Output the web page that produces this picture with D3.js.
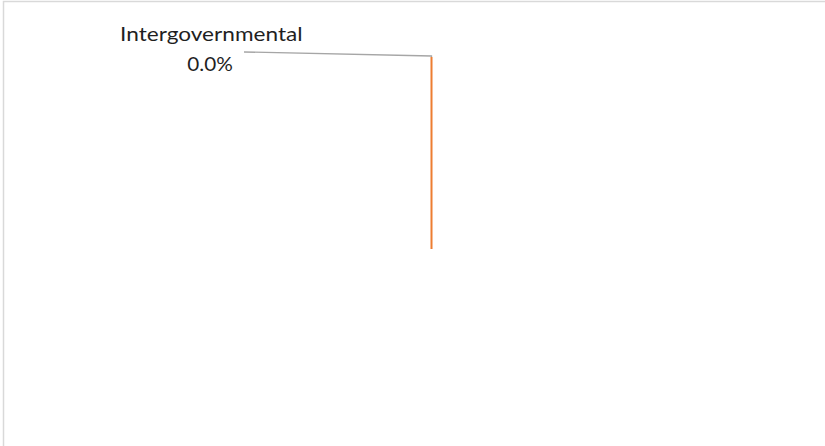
<!DOCTYPE html>
<html>
<head>
<meta charset="utf-8">
<script src="https://cdn.jsdelivr.net/npm/d3@7"></script>
<style>
  html, body { margin: 0; padding: 0; background: #fff; }
  svg { display: block; }
</style>
</head>
<body>
<svg id="chart" width="825" height="446"></svg>
<script>
// Revenue share by source
const categories = ["Intergovernmental"];
const values = [0];
const sliceColors = ["#ED7D31"];
const percentLabels = ["0.0%"];

const width = 825, height = 446;
const cx = 431.5, cy = 249, radius = 192;

const svg = d3.select("#chart");

// chart frame
svg.append("rect")
  .attr("x", 3.5).attr("y", 1.5)
  .attr("width", width + 10).attr("height", height + 10)
  .attr("fill", "#fff")
  .attr("stroke", "#d9d9d9")
  .attr("stroke-width", 1.5);

const pie = d3.pie().sort(null).value(d => d.value);
const arc = d3.arc().innerRadius(0).outerRadius(radius);
const slices = pie(categories.map((c, i) => ({ name: c, value: values[i] })));

const g = svg.append("g").attr("transform", `translate(${cx},${cy})`);

g.selectAll("path.slice")
  .data(slices)
  .join("path")
  .attr("class", "slice")
  .attr("d", arc)
  .attr("fill", (d, i) => sliceColors[i])
  .attr("stroke", (d, i) => sliceColors[i])
  .attr("stroke-width", 2);

const fontFamily = "Lato, 'Open Sans', sans-serif";
const fontSize = 18.7;

// a label line, condensed horizontally so it spans the given width
function label(text, xc, y, targetWidth) {
  const t = svg.append("text")
    .attr("text-anchor", "middle")
    .attr("font-family", fontFamily)
    .attr("font-size", fontSize)
    .attr("fill", "#1f1f1f")
    .attr("y", y)
    .text(text);
  const w = t.node().getComputedTextLength();
  const sx = targetWidth / w;
  t.attr("transform", `translate(${xc},0) scale(${sx},1)`);
  return t;
}

slices.forEach((d, i) => {
  const mid = (d.startAngle + d.endAngle) / 2;
  const ex = cx + Math.sin(mid) * radius;
  const ey = cy - Math.cos(mid) * radius;
  // leader line from the label to the slice's outer edge
  svg.append("polyline")
    .attr("points", `${244},${52} ${ex},${ey - 1} ${ex},${ey}`)
    .attr("fill", "none")
    .attr("stroke", "#a6a6a6")
    .attr("stroke-width", 1.3);

  label(categories[i], 211.3, 40.7, 182.5);
  label(percentLabels[i], 210, 71.3, 45.5);
});
</script>
</body>
</html>
